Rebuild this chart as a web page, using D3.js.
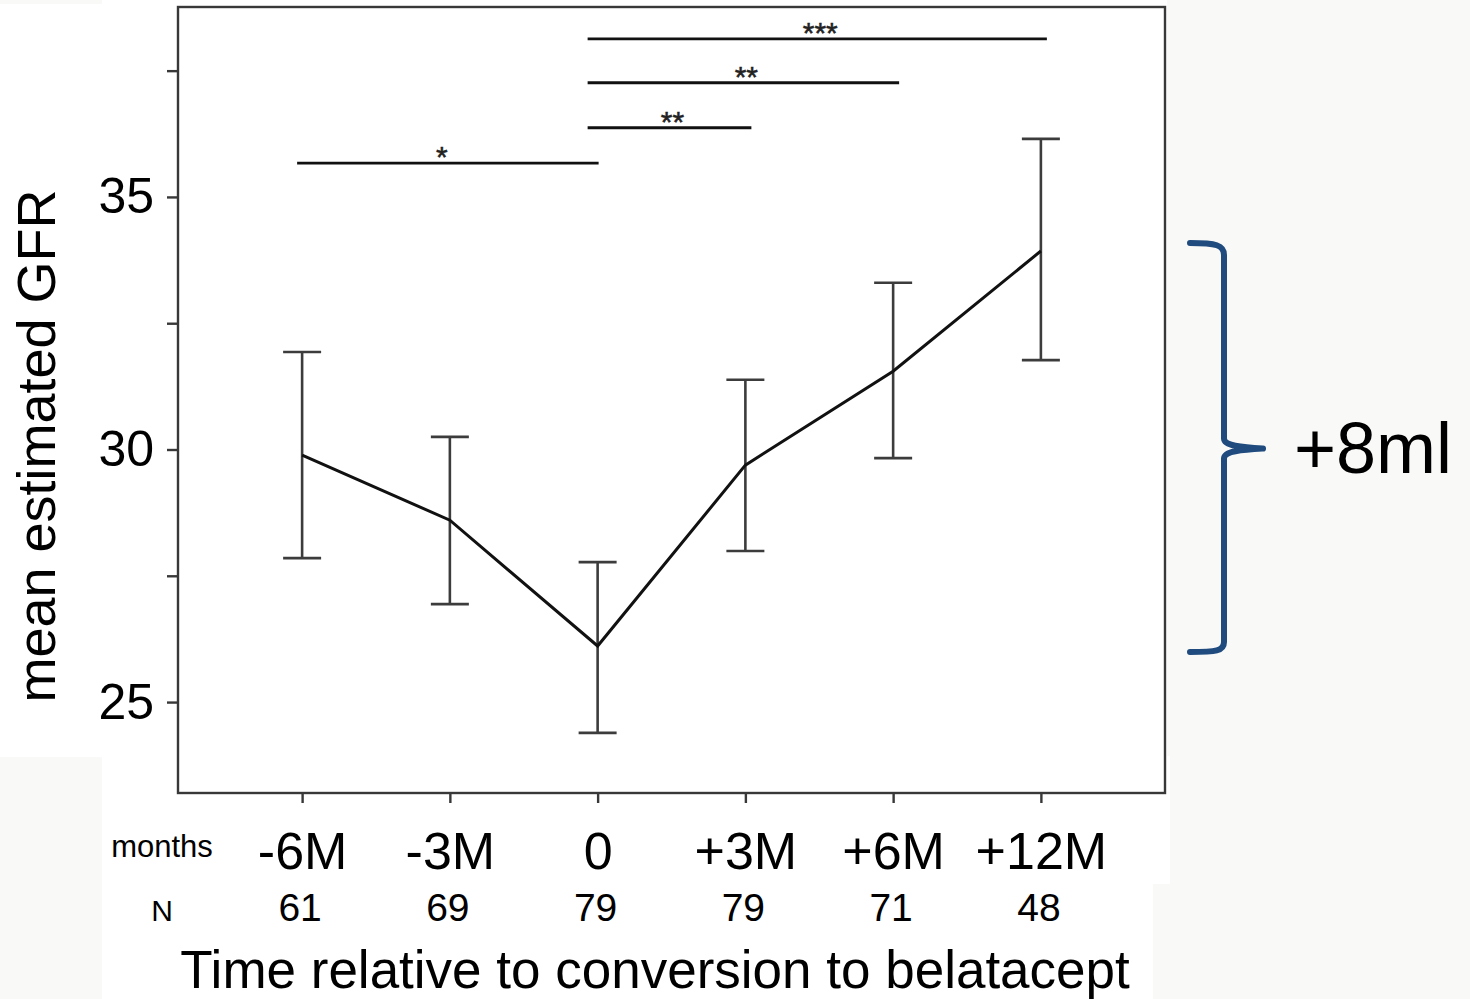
<html>
<head>
  <title>eGFR after belatacept conversion</title>
  <script src="https://d3js.org/d3.v7.min.js"></script>
</head>
<style>
  body { margin: 0; background: #f9f9f7; }
  svg { display: block; font-family: "Liberation Sans", Arial, sans-serif; }
</style>
<body>
<svg width="1470" height="999"></svg>
<script>

  // values
  const months = ["-6M", "-3M", "0", "+3M", "+6M", "+12M"];
  const nPatients = [61, 69, 79, 79, 71, 48];
  const meanGFR = [29.89, 28.60, 26.11, 29.69, 31.55, 33.93];
  const upperErr = [31.93, 30.25, 27.77, 31.38, 33.30, 36.15];
  const lowerErr = [27.85, 26.94, 24.39, 27.99, 29.83, 31.77];
  const yTicks = [25, 27.5, 30, 32.5, 35, 37.5];

  // significance brackets: from, to, label, height (GFR units)
  const compFrom = ["-6M", "0", "0", "0"];
  const compTo = ["0", "+3M", "+6M", "+12M"];
  const compStars = ["*", "**", "**", "***"];
  const compLevel = [35.67, 36.37, 37.26, 38.13];

  let svg = d3.select("svg");

  // white patches of the pasted figure
  svg.append("rect").attr("x", 0).attr("y", 4).attr("width", 1167).attr("height", 753).attr("fill", "#fff");
  svg.append("rect").attr("x", 102).attr("y", 0).attr("width", 1065).attr("height", 10).attr("fill", "#fff");
  svg.append("rect").attr("x", 102).attr("y", 756).attr("width", 1068).attr("height", 128).attr("fill", "#fff");
  svg.append("rect").attr("x", 102).attr("y", 883).attr("width", 1051).attr("height", 116).attr("fill", "#fff");

  let plotLeft = 178, plotRight = 1165, plotTop = 7, plotBottom = 793;

  let xScale = d3.scalePoint()
          .domain(months)
          .range([plotLeft, plotRight])
          .padding(0.84);

  let yScale = d3.scaleLinear()
          .domain([23.2, 38.76])
          .range([plotBottom, plotTop]);

  let g = svg.append("g");

  // frame
  g.append("rect")
          .attr("x", plotLeft).attr("y", plotTop)
          .attr("width", plotRight - plotLeft).attr("height", plotBottom - plotTop)
          .attr("fill", "none")
          .attr("stroke", "#383838")
          .attr("stroke-width", 2.4);

  // y axis
  let yAxis = g.append("g")
          .attr("transform", "translate(" + plotLeft + ",0)")
          .call(d3.axisLeft(yScale)
                  .tickValues(yTicks)
                  .tickSize(11)
                  .tickPadding(13)
                  .tickFormat(d => d % 5 === 0 ? d : ""));
  yAxis.select(".domain").remove();
  yAxis.selectAll("line").attr("stroke", "#383838").attr("stroke-width", 2.4);
  yAxis.selectAll("text").attr("font-size", 50).attr("fill", "#000")
          .attr("font-family", "Liberation Sans, Arial, sans-serif");

  // x axis
  let xAxis = g.append("g")
          .attr("transform", "translate(0," + plotBottom + ")")
          .call(d3.axisBottom(xScale).tickSize(10).tickPadding(29));
  xAxis.select(".domain").remove();
  xAxis.selectAll("line").attr("stroke", "#383838").attr("stroke-width", 2.4);
  xAxis.selectAll("text").attr("font-size", 52).attr("fill", "#000")
          .attr("font-family", "Liberation Sans, Arial, sans-serif");

  // error bars
  let bars = g.selectAll(".err")
          .data(months)
          .enter()
          .append("g")
          .attr("class", "err")
          .attr("stroke", "#3c3c3c")
          .attr("stroke-width", 2.6);

  bars.append("line")
          .attr("x1", d => xScale(d)).attr("x2", d => xScale(d))
          .attr("y1", (d, i) => yScale(upperErr[i]))
          .attr("y2", (d, i) => yScale(lowerErr[i]));
  bars.append("line")
          .attr("x1", d => xScale(d) - 19).attr("x2", d => xScale(d) + 19)
          .attr("y1", (d, i) => yScale(upperErr[i]))
          .attr("y2", (d, i) => yScale(upperErr[i]));
  bars.append("line")
          .attr("x1", d => xScale(d) - 19).attr("x2", d => xScale(d) + 19)
          .attr("y1", (d, i) => yScale(lowerErr[i]))
          .attr("y2", (d, i) => yScale(lowerErr[i]));

  // mean line
  let meanLine = d3.line()
          .x((d, i) => xScale(months[i]))
          .y(d => yScale(d));

  g.append("path")
          .attr("d", meanLine(meanGFR))
          .attr("fill", "none")
          .attr("stroke", "#111")
          .attr("stroke-width", 3);

  // significance brackets
  compStars.forEach(function (s, i) {
    let x1 = xScale(compFrom[i]) - (i === 0 ? 5 : 10),
            x2 = xScale(compTo[i]) + (i === 0 ? 1 : 6),
            y = yScale(compLevel[i]);
    g.append("line")
            .attr("x1", x1).attr("x2", x2)
            .attr("y1", y).attr("y2", y)
            .attr("stroke", "#111")
            .attr("stroke-width", 2.8);
    g.append("text")
            .attr("x", (x1 + x2) / 2 + (i === 0 ? -6 : 3))
            .attr("y", y + 4)
            .attr("text-anchor", "middle")
            .attr("font-size", 30)
            .attr("fill", "#222")
            .attr("stroke", "#222")
            .attr("stroke-width", 0.5)
            .text(s);
  });

  // axis titles and N row
  svg.append("text")
          .attr("transform", "translate(55," + 446 + ") rotate(-90)")
          .attr("text-anchor", "middle")
          .attr("font-size", 54)
          .text("mean estimated GFR");

  svg.append("text")
          .attr("x", 162).attr("y", 857)
          .attr("text-anchor", "middle")
          .attr("font-size", 31)
          .text("months");

  svg.append("text")
          .attr("x", 162).attr("y", 921)
          .attr("text-anchor", "middle")
          .attr("font-size", 30)
          .text("N");

  svg.selectAll(".n")
          .data(nPatients)
          .enter()
          .append("text")
          .attr("class", "n")
          .attr("x", (d, i) => xScale(months[i]) - 2)
          .attr("y", 921)
          .attr("text-anchor", "middle")
          .attr("font-size", 39)
          .text(d => d);

  svg.append("text")
          .attr("x", 655).attr("y", 988)
          .attr("text-anchor", "middle")
          .attr("font-size", 53)
          .text("Time relative to conversion to belatacept");

  // brace from lowest to highest mean
  let yLo = yScale(d3.min(meanGFR)),
          yHi = yScale(d3.max(meanGFR)),
          yMid = (yLo + yHi) / 2,
          bx = 1224;
  let brace = d3.path();
  brace.moveTo(1190, yHi - 8);
  brace.bezierCurveTo(1216, yHi - 8, bx, yHi - 6, bx, yHi + 4);
  brace.lineTo(bx, yMid - 10);
  brace.bezierCurveTo(bx, yMid - 2, 1244, yMid - 1, 1263, yMid);
  brace.moveTo(1263, yMid);
  brace.bezierCurveTo(1244, yMid + 1, bx, yMid + 2, bx, yMid + 10);
  brace.lineTo(bx, yLo - 4);
  brace.bezierCurveTo(bx, yLo + 5, 1216, yLo + 6, 1190, yLo + 6);

  svg.append("path")
          .attr("d", brace.toString())
          .attr("fill", "none")
          .attr("stroke", "#1f4b7e")
          .attr("stroke-width", 6)
          .attr("stroke-linecap", "round");

  svg.append("text")
          .attr("x", 1294).attr("y", 473)
          .attr("font-size", 72)
          .text("+" + Math.round(d3.max(meanGFR) - d3.min(meanGFR)) + "ml");

</script>
</body>
</html>
